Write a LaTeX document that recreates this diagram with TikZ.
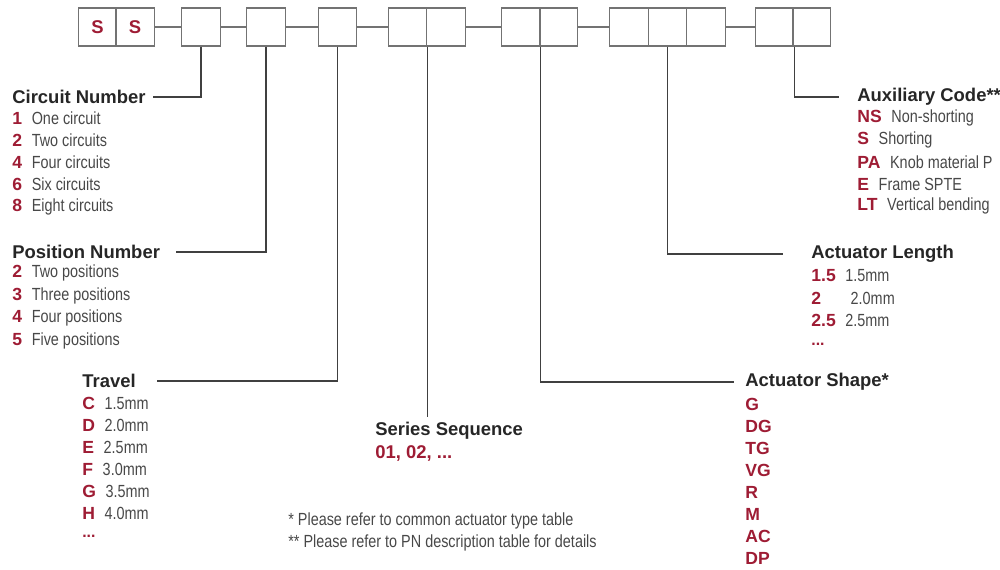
\documentclass[tikz,border=0pt]{standalone}
\usepackage{fontspec}
\setmainfont{Liberation Sans}
\newfontfamily\condfont[FakeStretch=0.82]{Liberation Sans}
\definecolor{codered}{RGB}{158,28,52}
\definecolor{txtgray}{RGB}{72,72,72}
\definecolor{boxgray}{RGB}{115,115,115}
\newcommand{\cde}[1]{{\bfseries\color{codered}#1}}
\newcommand{\dsc}[1]{{\condfont\color{txtgray}#1}}
\newcommand{\itm}[2]{\cde{#1}\hspace{5.5pt}\dsc{#2}}

\begin{document}
\begin{tikzpicture}[x=0.02cm,y=-0.02cm]
\tikzstyle{cell} = [draw=boxgray,line width=0.7pt,minimum width=0.77cm,minimum height=0.76cm,inner sep=0pt,font=\fontsize{10.5pt}{12pt}\selectfont] %case du code
\tikzstyle{head} = [anchor=west,inner sep=0pt,font=\fontsize{10.5pt}{12pt}\selectfont\bfseries,text=black!85]
\tikzstyle{item} = [anchor=west,inner sep=0pt]
\tikzstyle{lead} = [line width=0.6pt,color=black!75]
\useasboundingbox (0,0) rectangle (1000,569);

%cases du code
\node[cell] (c1a) at (97.5,27) {\cde{S}};
\node[cell] (c1b) at (135,27) {\cde{S}};
\node[cell] (c2) at (201,27) {};
\node[cell] (c3) at (266,27) {};
\node[cell] (c4) at (337.5,27) {};
\node[cell] (c5a) at (407.5,27) {};
\node[cell] (c5b) at (446,27) {};
\node[cell] (c6a) at (521,27) {};
\node[cell] (c6b) at (558.5,27) {};
\node[cell] (c7a) at (629,27) {};
\node[cell] (c7b) at (667.5,27) {};
\node[cell] (c7c) at (706,27) {};
\node[cell] (c8a) at (774.5,27) {};
\node[cell] (c8b) at (811.5,27) {};

%liaisons entre groupes
\draw[boxgray,line width=0.7pt] (c1b.east)--(c2.west);
\draw[boxgray,line width=0.7pt] (c2.east)--(c3.west);
\draw[boxgray,line width=0.7pt] (c3.east)--(c4.west);
\draw[boxgray,line width=0.7pt] (c4.east)--(c5a.west);
\draw[boxgray,line width=0.7pt] (c5b.east)--(c6a.west);
\draw[boxgray,line width=0.7pt] (c6b.east)--(c7a.west);
\draw[boxgray,line width=0.7pt] (c7c.east)--(c8a.west);

%circuit number
\node[head] (circ) at (12,97) {Circuit Number};
\node[item] (circ1) at (12,118) {\itm{1}{One circuit}};
\node[item] (circ2) at (12,140) {\itm{2}{Two circuits}};
\node[item] (circ4) at (12,162) {\itm{4}{Four circuits}};
\node[item] (circ6) at (12,184) {\itm{6}{Six circuits}};
\node[item] (circ8) at (12,207) {\itm{8}{Eight circuits}};

%position number
\node[head] (pos) at (12,252) {Position Number};
\node[item] (pos2) at (12,273) {\itm{2}{Two positions}};
\node[item] (pos3) at (12,296) {\itm{3}{Three positions}};
\node[item] (pos4) at (12,318) {\itm{4}{Four positions}};
\node[item] (pos5) at (12,341) {\itm{5}{Five positions}};

%travel
\node[head] (trv) at (82,381) {Travel};
\node[item] (trvC) at (82,403) {\itm{C}{1.5mm}};
\node[item] (trvD) at (82,425) {\itm{D}{2.0mm}};
\node[item] (trvE) at (82,447) {\itm{E}{2.5mm}};
\node[item] (trvF) at (82,469) {\itm{F}{3.0mm}};
\node[item] (trvG) at (82,491) {\itm{G}{3.5mm}};
\node[item] (trvH) at (82,513) {\itm{H}{4.0mm}};
\node[item] (trvX) at (82,536) {\cde{\small ...}};

%series sequence
\node[head] (ser) at (375,431) {Series Sequence};
\node[item] (ser1) at (375,453) {\cde{\fontsize{10.5pt}{12pt}\selectfont 01, 02, ...}};

%notes
\node[item] (note1) at (288,521) {\dsc{* Please refer to common actuator type table}};
\node[item] (note2) at (288,543) {\dsc{** Please refer to PN description table for details}};

%actuator shape
\node[head] (shp) at (745,382) {Actuator Shape*};
\node[item] (shpG) at (745,404) {\cde{G}};
\node[item] (shpDG) at (745,426) {\cde{DG}};
\node[item] (shpTG) at (745,448) {\cde{TG}};
\node[item] (shpVG) at (745,470) {\cde{VG}};
\node[item] (shpR) at (745,492) {\cde{R}};
\node[item] (shpM) at (745,514) {\cde{M}};
\node[item] (shpAC) at (745,536) {\cde{AC}};
\node[item] (shpDP) at (745,558) {\cde{DP}};

%actuator length
\node[head] (len) at (811,254) {Actuator Length};
\node[item] (len1) at (811,276) {\itm{1.5}{1.5mm}};
\node[item] (len2) at (811,298) {\itm{2\phantom{.5}}{\hspace{3pt}2.0mm}};
\node[item] (len3) at (811,320) {\itm{2.5}{2.5mm}};
\node[item] (lenX) at (811,344) {\cde{\small ...}};

%auxiliary code
\node[head] (aux) at (857,97) {Auxiliary Code**};
\node[item] (auxNS) at (857,118) {\itm{NS}{Non-shorting}};
\node[item] (auxS) at (857,140) {\itm{S}{Shorting}};
\node[item] (auxPA) at (857,162) {\itm{PA}{Knob material P}};
\node[item] (auxE) at (857,184) {\itm{E}{Frame SPTE}};
\node[item] (auxLT) at (857,206) {\itm{LT}{Vertical bending}};

%lignes de rappel
\draw[lead] (c2.south) |- ([xshift=4pt]circ.east);
\draw[lead] (c3.south) |- ([xshift=9pt]pos.east);
\draw[lead] (c4.south) |- ([xshift=12pt]trv.east);
\draw[lead] (c5a.south east) -- ([yshift=3pt]c5a.south east |- ser.north);
\draw[lead] (c6a.south east) |- ([xshift=-6pt]shp.west);
\draw[lead] (c7b.south) |- ([xshift=-16pt]len.west);
\draw[lead] (c8a.south east) |- ([xshift=-10pt]aux.west);
\end{tikzpicture}
\end{document}
